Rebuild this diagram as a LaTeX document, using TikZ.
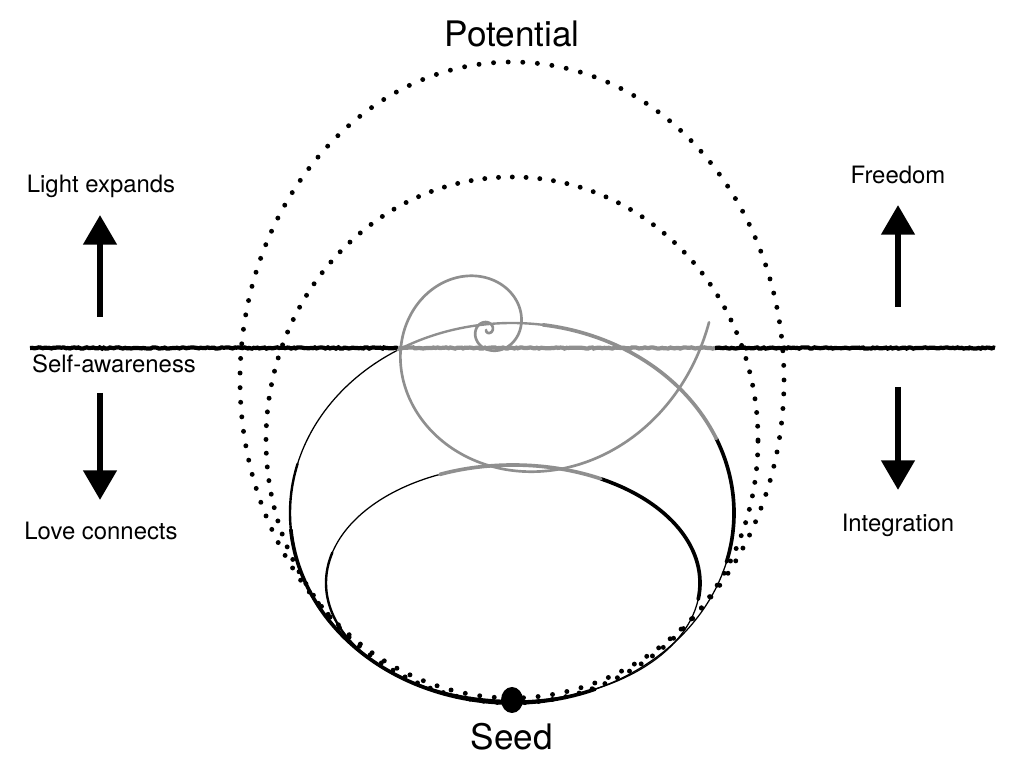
\documentclass[tikz,border=0pt]{standalone}
\usepackage{fontspec}
\setmainfont{TeX Gyre Heros}
\usetikzlibrary{arrows.meta, decorations.pathmorphing}

\definecolor{fade}{gray}{0.56}
\newcommand{\outerloop}[3]{\draw[#3] (512,255) ++(#1:222 and 190) arc[start angle=#1, end angle=#2, x radius=222, y radius=190];}
\newcommand{\innerloop}[3]{\draw[#3] (513,185) ++(#1:187 and 118) arc[start angle=#1, end angle=#2, x radius=187, y radius=118];}

\tikzset{
  dotline/.style = {line width=3.5pt, line cap=round, dash pattern=on 0pt off 10.4pt},
  rough/.style = {line width=3pt, decorate, decoration={random steps, segment length=1.5pt, amplitude=0.45pt}},
  thinstroke/.style = {line width=0.9pt, line cap=round},
  midstroke/.style = {line width=1.7pt, line cap=round},
  thickstroke/.style = {line width=2.6pt, line cap=round},
  bigarrow/.style = {line width=4.4pt, -{Triangle[length=21pt, width=23pt]}},
  sidetext/.style = {font=\fontsize{17}{19}\selectfont, anchor=base},
  bigtext/.style = {font=\fontsize{25}{28}\selectfont, anchor=base}
}

\begin{document}
\begin{tikzpicture}[x=0.025cm, y=0.025cm]

  \useasboundingbox (0,0) rectangle (1024,768);
  \pgfmathsetseed{7}

  % dotted shells
  \draw[dotline] (512,388) ellipse [x radius=272, y radius=318];
  \draw[dotline, dash pattern=on 0pt off 9.8pt] (512,328) ellipse [x radius=246, y radius=263];

  % self-awareness line
  \coordinate (sa-w) at (30,420);
  \coordinate (sa-gl) at (398,420);
  \coordinate (sa-gr) at (715,420);
  \coordinate (sa-e) at (995,420);
  \draw[rough] (sa-w) -- (sa-gl);
  \draw[rough, fade] (sa-gl) -- (sa-gr);
  \draw[rough] (sa-gr) -- (sa-e);

  % big loop
  \outerloop{121}{168}{thinstroke}
  \outerloop{165}{188}{midstroke}
  \outerloop{185}{292}{thickstroke}
  \outerloop{290}{348}{thinstroke}
  \outerloop{345}{383}{thickstroke}
  \outerloop{23}{82}{thickstroke, fade}
  \outerloop{80}{121}{midstroke, fade}

  % small loop
  \innerloop{-8}{62}{thickstroke}
  \innerloop{-90}{-8}{thinstroke}
  \innerloop{113}{168}{thinstroke}
  \innerloop{165}{270}{midstroke}
  \innerloop{62}{113}{thickstroke, fade}

  % spiral
  \draw[fade, line width=1.9pt, line cap=round] plot[domain=-540:362, samples=500, smooth, variable=\t]
    ({488+32*exp(0.0053468*\t)*cos(\t)}, {438+32*exp(0.0053468*\t)*sin(\t)});

  % seed
  \fill (512,68) ellipse [x radius=11, y radius=13];
  \node[bigtext] (seed) at (512,18) {Seed};
  \node[bigtext] (potential) at (512,721) {Potential};

  % left side
  \node[sidetext] (light) at (101,575) {Light expands};
  \node[sidetext] (selfaware) at (114,395) {Self-awareness};
  \node[sidetext] (love) at (101,228) {Love connects};
  \coordinate (lightup-s) at (100,451);
  \coordinate (lightup-e) at (100,553);
  \coordinate (lovedown-s) at (100,375);
  \coordinate (lovedown-e) at (100,268);
  \draw[bigarrow] (lightup-s) -- (lightup-e);
  \draw[bigarrow] (lovedown-s) -- (lovedown-e);

  % right side
  \node[sidetext] (freedom) at (898,584) {Freedom};
  \node[sidetext] (integration) at (898,236) {Integration};
  \coordinate (freeup-s) at (898,461);
  \coordinate (freeup-e) at (898,563);
  \coordinate (integdown-s) at (898,381);
  \coordinate (integdown-e) at (898,278);
  \draw[bigarrow] (freeup-s) -- (freeup-e);
  \draw[bigarrow] (integdown-s) -- (integdown-e);

\end{tikzpicture}
\end{document}
